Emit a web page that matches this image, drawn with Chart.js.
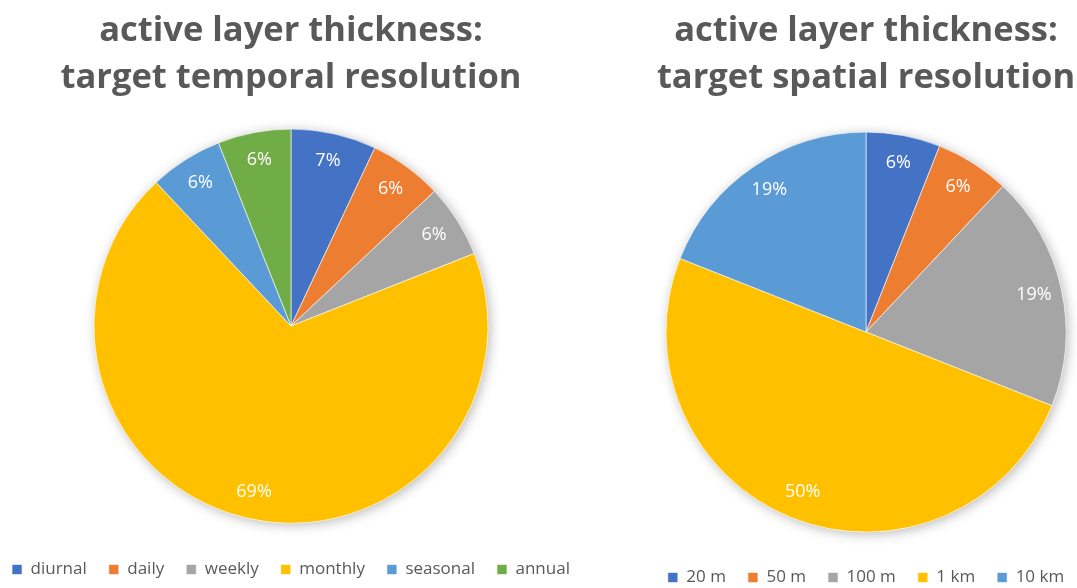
<!DOCTYPE html>
<html>
<head>
<meta charset="utf-8">
<script src="https://cdn.jsdelivr.net/npm/chart.js@4.4.1/dist/chart.umd.min.js"></script>
<style>
	html, body { margin: 0; padding: 0; background: #fff; overflow: hidden; width: 1077px; height: 588px; }
	.pie-box { position: absolute; top: 0; }
	#temporal-box { left: -20px; width: 622px; height: 588px; }
	#spatial-box { left: 610px; width: 512px; height: 596px; }
</style>
</head>
<body>
<div class="pie-box" id="temporal-box"><canvas id="temporal"></canvas></div>
<div class="pie-box" id="spatial-box"><canvas id="spatial"></canvas></div>
<script>
	// temporal resolution (percent)
	const temporalLabels = ['diurnal', 'daily', 'weekly', 'monthly', 'seasonal', 'annual'];
	const temporalValues = [7, 6, 6, 69, 6, 6];

	// spatial resolution (percent)
	const spatialLabels = ['20 m', '50 m', '100 m', '1 km', '10 km'];
	const spatialValues = [6, 6, 19, 50, 19];

	const officeColours = ['#4472C4', '#ED7D31', '#A5A5A5', '#FFC000', '#5B9BD5', '#70AD47'];
	const textGrey = '#595959';

	/**
	 * Soft shadow under the whole pie, drawn once before the slices.
	 */
	const pieShadow = {
		id: 'pieShadow',
		beforeDatasetsDraw: function(chart) {
			let arc = chart.getDatasetMeta(0).data[0];
			if (!arc) return;
			let ctx = chart.ctx;
			ctx.save();
			ctx.shadowColor = 'rgba(0, 0, 0, 0.28)';
			ctx.shadowBlur = 12;
			ctx.shadowOffsetX = 2;
			ctx.shadowOffsetY = 2;
			ctx.fillStyle = '#fff';
			ctx.beginPath();
			ctx.arc(arc.x, arc.y, arc.outerRadius, 0, Math.PI * 2);
			ctx.fill();
			ctx.restore();
		}
	};

	/**
	 * White percentage labels inside each slice.
	 */
	const sliceLabels = {
		id: 'sliceLabels',
		afterDatasetsDraw: function(chart) {
			let ctx = chart.ctx,
				values = chart.data.datasets[0].data;

			ctx.save();
			ctx.fillStyle = '#fff';
			ctx.font = '18px "Open Sans"';
			ctx.textAlign = 'center';
			ctx.textBaseline = 'middle';
			chart.getDatasetMeta(0).data.forEach(function(arc, i) {
				let mid = (arc.startAngle + arc.endAngle) / 2,
					r = arc.outerRadius * 0.86;
				ctx.fillText(values[i] + '%', arc.x + Math.cos(mid) * r, arc.y + Math.sin(mid) * r);
			});
			ctx.restore();
		}
	};

	function drawPie(id, labels, values, title, radius, titleGap) {
		return new Chart(document.getElementById(id), {
			type: 'pie',
			data: {
				labels: labels,
				datasets: [{
					data: values,
					backgroundColor: officeColours.slice(0, values.length),
					borderColor: '#fff',
					borderWidth: 0.6,
					radius: radius
				}]
			},
			plugins: [pieShadow, sliceLabels],
			options: {
				responsive: true,
				maintainAspectRatio: false,
				animation: false,
				layout: { padding: 0 },
				plugins: {
					title: {
						display: true,
						text: title,
						color: textGrey,
						font: { family: 'Open Sans', weight: 'bold', size: 34.5, lineHeight: 1.35 },
						padding: { top: 8, bottom: titleGap }
					},
					legend: {
						position: 'bottom',
						labels: {
							color: textGrey,
							font: { family: 'Open Sans', size: 17 },
							boxWidth: 10,
							boxHeight: 10,
							padding: 22
						}
					},
					tooltip: { enabled: false }
				}
			}
		});
	}

	drawPie('temporal', temporalLabels, temporalValues,
		['active layer thickness:', 'target temporal resolution'], 197, 12);
	drawPie('spatial', spatialLabels, spatialValues,
		['active layer thickness:', 'target spatial resolution'], 200, 16);
</script>
</body>
</html>
